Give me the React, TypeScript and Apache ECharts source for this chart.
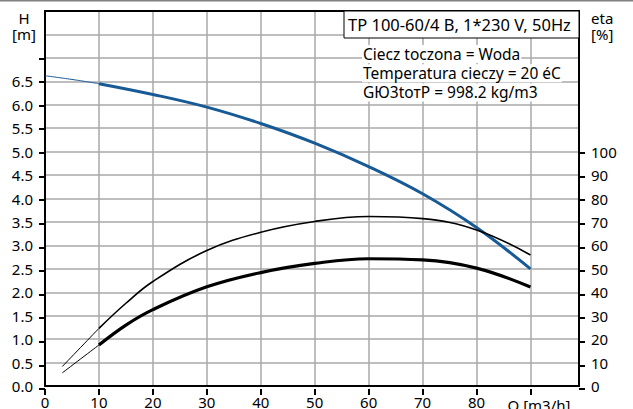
import React, { useEffect, useRef } from 'react';
import * as echarts from 'echarts';

// Q-H curve (left axis, metres)
const flowHead = [0, 5, 10, 20, 30, 40, 50, 60, 70, 80, 90];
const head = [6.62, 6.54, 6.45, 6.22, 5.95, 5.6, 5.18, 4.68, 4.1, 3.38, 2.5];
// efficiency curves (right axis, %)
const flowEta = [3.2, 10, 15, 20, 30, 40, 50, 60, 70, 80, 90];
const etaPump = [8.3, 24.6, 35.3, 44.6, 57.8, 65.6, 70.2, 72.3, 71.4, 66.6, 55.9];
const etaTotal = [5.6, 17.5, 26.0, 32.6, 42.3, 48.4, 52.3, 54.3, 53.8, 50.3, 42.2];
// the curves are drawn thin below this flow
const dutyStart = 10;

const titleText = 'TP 100-60/4 B, 1*230 V, 50Hz';
const infoLines = ['Ciecz toczona = Woda', 'Temperatura cieczy = 20 éC', 'GЮ3toтP = 998.2 kg/m3'];
const xName = 'Q [m3/h]';
const leftName = ['H', '[m]'];
const rightName = ['eta', '[%]'];

const FONT = 'Noto Sans';
const BLUE = '#175a96';
const GRID_GREY = '#a8a8a8';

function pairs(xs: number[], ys: number[], from: number, to: number) {
  const out: number[][] = [];
  xs.forEach((x, i) => {
    if (x >= from && x <= to) out.push([x, ys[i]]);
  });
  return out;
}

export default function App() {
  const ref = useRef<HTMLDivElement>(null);
  useEffect(() => {
    document.body.style.margin = '0';
    const chart = echarts.init(ref.current!, null, { renderer: 'svg' });
    const W = 633;
    const left = 45, right = 54, top = 11, bottom = 20;
    const plotW = W - left - right;
    const plotH = 409 - top - bottom;
    const xMax = 99;
    const label = { fontSize: 15, fontFamily: FONT, color: '#000' };
    const txt = (text: string, x: number, y: number, align: string, extra: any = {}) => ({
      type: 'text',
      x,
      y,
      z: 100,
      style: {
        text,
        fill: '#000',
        fontSize: 15,
        fontFamily: FONT,
        align,
        textAlign: align,
        verticalAlign: 'middle',
        textVerticalAlign: 'middle',
        ...extra,
      },
    });
    const curve = (data: number[][], yAxisIndex: number, color: string, width: number) => ({
      type: 'line', xAxisIndex: 0, yAxisIndex, smooth: 0.4, showSymbol: false, z: 10,
      data, lineStyle: { color, width },
    });
    chart.setOption({
      animation: false,
      grid: [
        { left, right, top, bottom },
        { left, bottom, width: (90 / xMax) * plotW, height: (7 / 8) * plotH },
        { right, bottom, width: 10, height: (100 / 160) * plotH },
      ],
      xAxis: [
        {
          gridIndex: 0, type: 'value', min: 0, max: xMax, interval: 10,
          axisLine: { show: true, onZero: false, lineStyle: { color: '#000', width: 2 } },
          axisTick: { show: false },
          axisLabel: { ...label, margin: 8, formatter: (v: number) => (v <= 80 ? String(v) : '') },
          splitLine: { show: true, lineStyle: { color: GRID_GREY, width: 1.5, opacity: 1 } },
        },
        {
          gridIndex: 0, type: 'value', position: 'top', min: 0, max: xMax,
          axisLine: { show: true, onZero: false, lineStyle: { color: '#000', width: 2 } },
          axisTick: { show: false }, axisLabel: { show: false }, splitLine: { show: false },
        },
        {
          gridIndex: 1, type: 'value', min: 0, max: 90, interval: 10,
          axisLine: { show: false, onZero: false }, axisLabel: { show: false }, splitLine: { show: false },
          axisTick: { show: true, length: 6, lineStyle: { color: '#000', width: 2 } },
        },
        { gridIndex: 2, type: 'value', min: 0, max: 1, show: false },
      ],
      yAxis: [
        {
          gridIndex: 0, type: 'value', position: 'left', min: 0, max: 8, interval: 0.5,
          axisLine: { show: true, onZero: false, lineStyle: { color: '#000', width: 2 } },
          axisTick: { show: false },
          axisLabel: { ...label, margin: 12, formatter: (v: number) => (v <= 6.5 ? v.toFixed(1) : '') },
          splitLine: { show: true, lineStyle: { color: GRID_GREY, width: 1.5, opacity: 1 } },
        },
        {
          gridIndex: 0, type: 'value', position: 'right', min: 0, max: 160, interval: 10,
          axisLine: { show: true, onZero: false, lineStyle: { color: '#000', width: 2 } },
          axisTick: { show: false },
          axisLabel: { ...label, margin: 12, formatter: (v: number) => (v <= 100 ? String(v) : '') },
          splitLine: { show: false },
        },
        {
          gridIndex: 1, type: 'value', position: 'left', min: 0, max: 7, interval: 0.5,
          axisLine: { show: false, onZero: false }, axisLabel: { show: false }, splitLine: { show: false },
          axisTick: { show: true, length: 6, lineStyle: { color: '#000', width: 2 } },
        },
        {
          gridIndex: 2, type: 'value', position: 'right', min: 0, max: 100, interval: 10,
          axisLine: { show: false, onZero: false }, axisLabel: { show: false }, splitLine: { show: false },
          axisTick: { show: true, length: 6, lineStyle: { color: '#000', width: 2 } },
        },
      ],
      series: [
        curve(pairs(flowHead, head, 0, dutyStart), 0, BLUE, 1),
        curve(pairs(flowHead, head, dutyStart, 200), 0, BLUE, 3),
        curve(pairs(flowEta, etaPump, 0, dutyStart), 1, '#000', 1),
        curve(pairs(flowEta, etaPump, dutyStart, 200), 1, '#000', 1.6),
        curve(pairs(flowEta, etaTotal, 0, dutyStart), 1, '#000', 1),
        curve(pairs(flowEta, etaTotal, dutyStart, 200), 1, '#000', 3.2),
      ],
      graphic: [
        { type: 'rect', z: 100, shape: { x: 0, y: 0, width: W, height: 1.5 }, style: { fill: '#808080' } },
        {
          type: 'rect', z: 100, shape: { x: 344, y: 11, width: 235, height: 27 },
          style: { fill: '#fff', stroke: '#000', lineWidth: 1 },
        },
        txt(titleText, 348, 24.5, 'left', { fontSize: 16.5 }),
        ...infoLines.map((t, i) =>
          txt(t, 362, 54 + i * 19.2, 'left', {
            fontSize: 15.5, lineHeight: 18, backgroundColor: '#fff', padding: [0, 1, 0, 1],
          })
        ),
        txt(leftName[0], 24, 18, 'center', { lineHeight: 15 }),
        txt(leftName[1], 24, 34, 'center', { lineHeight: 15 }),
        txt(rightName[0], 591, 18, 'left', { lineHeight: 15 }),
        txt(rightName[1], 591, 34, 'left', { lineHeight: 15 }),
        txt(xName, 539, 397, 'center', { verticalAlign: 'top', textVerticalAlign: 'top' }),
      ],
    });
    return () => chart.dispose();
  }, []);
  return (
    <div
      ref={ref}
      style={{ position: 'fixed', left: 0, top: 0, width: 633, height: 409, background: '#fff' }}
    />
  );
}
